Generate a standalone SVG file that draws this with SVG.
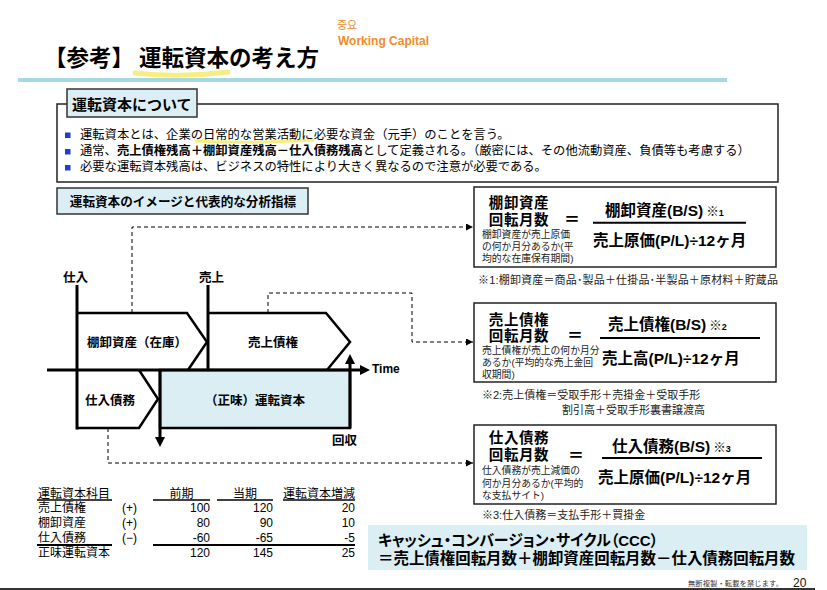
<svg xmlns="http://www.w3.org/2000/svg" width="827" height="590" viewBox="0 0 827 590">
<defs>
<style>
text{font-family:"Liberation Sans","Noto Sans CJK JP",sans-serif;fill:#000}
.b{font-weight:bold}
.t12{font-size:12.3px}
.lab{font-size:12.5px;font-weight:bold}
.big{font-size:15.5px;font-weight:bold}
.lbl{font-size:14.5px;font-weight:bold;letter-spacing:0.6px;text-anchor:middle}
.eq{font-size:16px;font-weight:bold;text-anchor:middle}
.sm{font-size:9.8px;fill:#222}
.note{font-size:11px;fill:#222}
.tb{font-size:12px}
.num{font-size:12px;text-anchor:end}
.dash{fill:none;stroke:#000;stroke-width:1;stroke-dasharray:4 3}
.thick{stroke:#000;stroke-width:3;fill:none}
.pent{fill:#fff;stroke:#000;stroke-width:2.5;stroke-linejoin:miter}
.fbox{fill:#fff;stroke:#222;stroke-width:1.5}
.frac{stroke:#000;stroke-width:2}
.rule{stroke:#000;stroke-width:1.5}
.blue{fill:#daeef3}
.bul{fill:#1f3ed8}
</style>
<marker id="ah" viewBox="0 0 10 10" refX="10" refY="5" markerWidth="7" markerHeight="7" orient="auto" markerUnits="userSpaceOnUse">
<path d="M0,0 L10,5 L0,10 z" fill="#000"/>
</marker>
</defs>
<rect width="827" height="590" fill="#fff"/>

<g id="header">
<path d="M135,73 Q180,78 228,72" stroke="#f7ee82" stroke-width="5" stroke-linecap="round" fill="none"/>
<text x="44" y="66" style="font-family:'Noto Sans CJK JP',sans-serif;font-size:22.5px;font-weight:bold">【参考】<tspan dx="5">運転資本の考え方</tspan></text>
<text x="337" y="29" style="font-family:'Noto Sans CJK KR',sans-serif;font-size:11px;fill:#f28c28">중요</text>
<text x="338" y="45" style="font-size:12px;font-weight:bold;fill:#f28c28">Working Capital</text>
<line x1="18" y1="80" x2="727" y2="80" stroke="#a6d8e4" stroke-width="4"/>
</g>

<g id="about">
<rect x="57" y="104" width="721" height="78" fill="#fff" stroke="#222" stroke-width="1.5"/>
<rect x="67" y="89" width="130" height="28" fill="#dceef5" stroke="#333" stroke-width="1.5"/>
<text x="72" y="110" style="font-size:15px;font-weight:bold">運転資本について</text>
<path d="M196,141 Q255,144 313,140" stroke="#f7ee82" stroke-width="3" fill="none" stroke-linecap="round"/>
<rect class="bul" x="65" y="132.5" width="5.5" height="5.5"/>
<rect class="bul" x="65" y="149" width="5.5" height="5.5"/>
<rect class="bul" x="65" y="165" width="5.5" height="5.5"/>
<text class="t12" x="80" y="139">運転資本とは、企業の日常的な営業活動に必要な資金（元手）のことを言う。</text>
<text class="t12" x="80" y="155">通常、<tspan class="b">売上債権残高＋棚卸資産残高－仕入債務残高</tspan>として定義される。（厳密には、その他流動資産、負債等も考慮する）</text>
<text class="t12" x="80" y="171">必要な運転資本残高は、ビジネスの特性により大きく異なるので注意が必要である。</text>
</g>

<g id="section-title">
<rect x="57" y="188" width="251" height="26" fill="#dceef5" stroke="#333" stroke-width="1.5"/>
<text x="183" y="205.5" text-anchor="middle" style="font-size:12.6px;font-weight:bold">運転資本のイメージと代表的な分析指標</text>
</g>

<g id="connectors">
<path class="dash" d="M132,313 V227 H473" marker-end="url(#ah)"/>
<path class="dash" d="M268,313 V293 H412 V342 H473" marker-end="url(#ah)"/>
<path class="dash" d="M108,428 V463 H473" marker-end="url(#ah)"/>
</g>

<g id="timeline">
<path class="pent" d="M77,313 H187 L207,342 L188,370"/>
<path class="pent" d="M208,313 H326 L350,342 L327,370"/>
<path class="pent" d="M139,370 L158,399 L139,428 H77"/>
<rect x="160" y="370" width="190" height="58" class="blue" stroke="#000" stroke-width="2.5"/>
<line class="thick" x1="77" y1="285" x2="77" y2="429.5"/>
<line class="thick" x1="208" y1="285" x2="208" y2="370"/>
<line class="thick" x1="47" y1="370" x2="362" y2="370"/>
<path d="M360,365 L370,370 L360,375 z" fill="#000"/>
<line class="thick" x1="160" y1="370" x2="160" y2="438"/>
<path d="M155,437 L165,437 L160,447 z" fill="#000"/>
<line class="thick" x1="350" y1="428" x2="350" y2="362"/>
<path d="M345,364 L355,364 L350,354 z" fill="#000"/>
<text class="lab" x="63" y="282">仕入</text>
<text class="lab" x="199" y="282">売上</text>
<text class="lab" x="137" y="347" text-anchor="middle">棚卸資産（在庫）</text>
<text class="lab" x="273" y="347" text-anchor="middle">売上債権</text>
<text class="lab" x="110" y="405" text-anchor="middle">仕入債務</text>
<text class="lab" x="255" y="405" text-anchor="middle">（正味）運転資本</text>
<text x="372" y="373" style="font-size:12px;font-weight:bold">Time</text>
<text class="lab" x="332" y="445">回収</text>
</g>

<g id="inventory-turnover">
<rect class="fbox" x="474" y="187" width="302" height="80"/>
<text class="lbl" x="519" y="207.5">棚卸資産</text>
<text class="lbl" x="519" y="225">回転月数</text>
<text class="eq" x="572" y="225">＝</text>
<text class="sm" x="482" y="237.5">棚卸資産が売上原価</text>
<text class="sm" x="482" y="250">の何か月分あるか(平</text>
<text class="sm" x="482" y="262">均的な在庫保有期間)</text>
<text class="big" x="605" y="215.5">棚卸資産(B/S)<tspan dx="3" style="font-size:12.5px">※</tspan><tspan style="font-size:9px">1</tspan></text>
<line class="frac" x1="593" y1="222.7" x2="746" y2="222.7"/>
<text class="big" x="593" y="245.5">売上原価(P/L)÷12ヶ月</text>
<text class="note" x="478" y="284" textLength="300" lengthAdjust="spacing">※1:棚卸資産＝商品･製品＋仕掛品･半製品＋原材料＋貯蔵品</text>
</g>

<g id="receivable-turnover">
<rect class="fbox" x="474" y="303" width="302" height="79"/>
<text class="lbl" x="519" y="324.5">売上債権</text>
<text class="lbl" x="519" y="341">回転月数</text>
<text class="eq" x="575" y="341">＝</text>
<text class="sm" x="482" y="354">売上債権が売上の何か月分</text>
<text class="sm" x="482" y="366">あるか(平均的な売上金回</text>
<text class="sm" x="482" y="378">収期間)</text>
<text class="big" x="608" y="329.5">売上債権(B/S)<tspan dx="3" style="font-size:12.5px">※</tspan><tspan style="font-size:9px">2</tspan></text>
<line class="frac" x1="600" y1="338" x2="760" y2="338"/>
<text class="big" x="602" y="363.5">売上高(P/L)÷12ヶ月</text>
<text class="note" x="482" y="399">※2:売上債権＝受取手形＋売掛金＋受取手形</text>
<text class="note" x="562" y="414">割引高＋受取手形裏書譲渡高</text>
</g>

<g id="payable-turnover">
<rect class="fbox" x="474" y="425" width="302" height="79"/>
<text class="lbl" x="519" y="442.5">仕入債務</text>
<text class="lbl" x="519" y="460">回転月数</text>
<text class="eq" x="576" y="461">＝</text>
<text class="sm" x="482" y="474">仕入債務が売上減価の</text>
<text class="sm" x="482" y="487">何か月分あるか(平均的</text>
<text class="sm" x="482" y="499">な支払サイト)</text>
<text class="big" x="612" y="452">仕入債務(B/S)<tspan dx="3" style="font-size:12.5px">※</tspan><tspan style="font-size:9px">3</tspan></text>
<line class="frac" x1="602" y1="458" x2="762" y2="458"/>
<text class="big" x="598" y="482.5">売上原価(P/L)÷12ヶ月</text>
<text class="note" x="482" y="519">※3:仕入債務＝支払手形＋買掛金</text>
</g>

<g id="table">
<text class="tb" x="38" y="497.5">運転資本科目</text>
<text class="tb" x="181.5" y="497.5" text-anchor="middle">前期</text>
<text class="tb" x="245" y="497.5" text-anchor="middle">当期</text>
<text class="tb" x="319" y="497.5" text-anchor="middle">運転資本増減</text>
<line class="rule" x1="37" y1="500" x2="112" y2="500"/>
<line class="rule" x1="153" y1="500" x2="210" y2="500"/>
<line class="rule" x1="217" y1="500" x2="273" y2="500"/>
<line class="rule" x1="283" y1="500" x2="355" y2="500"/>
<text class="tb" x="38" y="512">売上債権</text>
<text class="tb" x="122" y="512">(+)</text>
<text class="num" x="210" y="512">100</text>
<text class="num" x="273" y="512">120</text>
<text class="num" x="355" y="512">20</text>
<text class="tb" x="38" y="527">棚卸資産</text>
<text class="tb" x="122" y="527">(+)</text>
<text class="num" x="210" y="527">80</text>
<text class="num" x="273" y="527">90</text>
<text class="num" x="355" y="527">10</text>
<text class="tb" x="38" y="542">仕入債務</text>
<text class="tb" x="122" y="542">(−)</text>
<text class="num" x="210" y="542">-60</text>
<text class="num" x="273" y="542">-65</text>
<text class="num" x="355" y="542">-5</text>
<line x1="37" y1="545" x2="112" y2="545" stroke="#000" stroke-width="2"/>
<line x1="153" y1="545" x2="355" y2="545" stroke="#000" stroke-width="2"/>
<text class="tb" x="38" y="557">正味運転資本</text>
<text class="num" x="210" y="557">120</text>
<text class="num" x="273" y="557">145</text>
<text class="num" x="355" y="557">25</text>
</g>

<g id="ccc">
<rect x="368" y="525" width="439" height="45" class="blue"/>
<text x="378" y="545.5" textLength="280" lengthAdjust="spacingAndGlyphs" style="font-size:15.5px;font-weight:bold;font-feature-settings:'palt'">キャッシュ・コンバージョン・サイクル（CCC）</text>
<text x="378" y="563.5" textLength="417" lengthAdjust="spacingAndGlyphs" style="font-size:15.5px;font-weight:bold">＝売上債権回転月数＋棚卸資産回転月数－仕入債務回転月数</text>
</g>

<g id="footer">
<text x="688" y="585.5" textLength="95" style="font-size:7.3px;fill:#333">無断複製・転載を禁じます。</text>
<text x="793" y="587" style="font-size:12px;fill:#111">20</text>
<line x1="0" y1="589" x2="815" y2="589" stroke="#333" stroke-width="2"/>
</g>
</svg>
